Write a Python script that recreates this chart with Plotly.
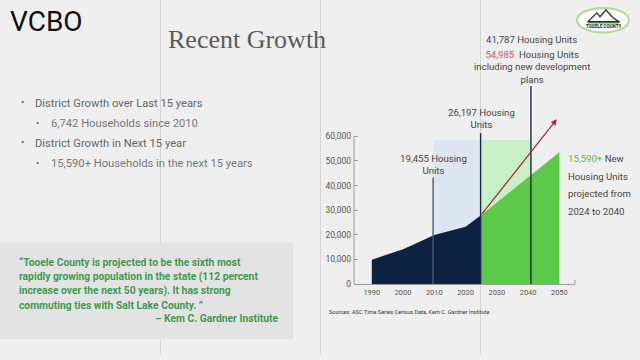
import plotly.graph_objects as go

W, H = 640, 360

# ---------------- data ----------------
hist_years = [1990, 2000, 2010, 2020, 2024.8]
hist_units = [9900, 14150, 19900, 23250, 27800]
proj_years = [2024.8, 2050]
proj_units = [27800, 53500]
trend_start = (2024.8, 27800)
trend_end = (2049.2, 67000)
shade_past = (2009.6, 2024.8)
shade_future = (2024.8, 2040.9)
shade_top = 58500
marker_years = [2009.6, 2024.8, 2040.9]
marker_tops = [43300, 61300, 80500]
y_ticks = [0, 10000, 20000, 30000, 40000, 50000, 60000]
x_ticks = [1990, 2000, 2010, 2020, 2030, 2040, 2050]

NAVY = "#0d2142"
GREEN = "#5cc94b"
LGREEN = "#c9efc7"
LBLUE = "#dde5f2"
RED = "#a8262b"
BG = "#efefef"
TXT = "#454545"
FONT = "Roboto"
CH = 9.6  # chart label size

def px(x):
    return x / W

def py(y):
    return 1 - y / H

fig = go.Figure()

fig.add_trace(go.Scatter(x=[shade_past[0], shade_past[1], shade_past[1], shade_past[0]],
                         y=[0, 0, shade_top, shade_top], fill="toself", mode="none",
                         fillcolor=LBLUE, hoverinfo="skip"))
fig.add_trace(go.Scatter(x=[shade_future[0], shade_future[1], shade_future[1], shade_future[0]],
                         y=[0, 0, shade_top, shade_top], fill="toself", mode="none",
                         fillcolor=LGREEN, hoverinfo="skip"))
fig.add_trace(go.Scatter(x=hist_years, y=hist_units, fill="tozeroy", mode="lines",
                         line=dict(width=0, color=NAVY), fillcolor=NAVY, hoverinfo="skip"))
fig.add_trace(go.Scatter(x=proj_years, y=proj_units, fill="tozeroy", mode="lines",
                         line=dict(width=0, color=GREEN), fillcolor=GREEN, hoverinfo="skip"))
mcolors = ["#4c5b7a", "#1e2a44", "#1e2a44"]
for xv, top, c in zip(marker_years, marker_tops, mcolors):
    fig.add_trace(go.Scatter(x=[xv, xv], y=[0, top], mode="lines",
                             line=dict(width=1.4, color=c), hoverinfo="skip"))

ann = []
ann.append(dict(x=trend_end[0], y=trend_end[1], ax=trend_start[0], ay=trend_start[1],
                xref="x", yref="y", axref="x", ayref="y", text="", showarrow=True,
                arrowhead=2, arrowsize=1, arrowwidth=1.2, arrowcolor=RED))

def T(text, x, y, size=CH, color=TXT, anchor="left", family=FONT, weight=None, yanchor="middle"):
    f = dict(size=size, color=color, family=family)
    if weight:
        f["weight"] = weight
    ann.append(dict(text=text, x=px(x), y=py(y), xref="paper", yref="paper",
                    xanchor=anchor, yanchor=yanchor, showarrow=False, font=f, align=anchor))

T("VCBO", 8, 22, size=28, color="#111111", weight=400)
T("Recent Growth", 166, 40, size=26, color="#5a5a5a", family="Liberation Serif")

T("•", 19, 104, size=10, color="#666")
T("District Growth over Last 15 years", 33, 105, size=11.2, color="#666")
T("•", 34, 125, size=10, color="#777")
T("6,742 Households since 2010", 48.5, 125, size=11.2, color="#777")
T("•", 19, 145, size=10, color="#666")
T("District Growth in Next 15 year", 33, 146, size=11.2, color="#666")
T("•", 34, 166, size=10, color="#777")
T("15,590+ Households in the next 15 years", 48.5, 166, size=11.2, color="#777")

QG = "#3f9a50"
qlines = ["“Tooele County is projected to be the sixth most",
          "rapidly growing population in the state (112 percent",
          "increase over the next 50 years). It has strong",
          "commuting ties with Salt Lake County. ”"]
qy = [265.7, 280.7, 295.0, 309.3]
for s, yy in zip(qlines, qy):
    T(s, 17, yy, size=10.3, color=QG, weight="bold")
T("– Kem C. Gardner Institute", 280, 323.3, size=10.3, color=QG, anchor="right", weight="bold")

T("19,455 Housing<br>Units", 433, 166.5, anchor="center")
T("26,197 Housing<br>Units", 481, 120.5, anchor="center")
T("41,787 Housing Units", 531.7, 40, anchor="center")
T("<span style='color:#d9534f'>54,985</span>  Housing Units<br>including new development<br>plans",
  531.7, 68, anchor="center")
T("<span style='color:#56c14a'>15,590+</span> New", 565.5, 160.5)
T("Housing Units", 565.5, 178.7)
T("projected from", 565.5, 196.7)
T("2024 to 2040", 565.5, 214.7)
T("Sources: ASC Time Series Census Data, Kem C. Gardner Institute", 326.5, 316.7, size=5.6, color="#333")

T("TOOELE COUNTY", 603, 26.5, size=4.5, color="#111", anchor="center", weight="bold")

shapes = []
for gx in [160.5, 320.5, 480.5]:
    shapes.append(dict(type="line", xref="paper", yref="paper", x0=px(gx), x1=px(gx), y0=0, y1=1,
                       line=dict(color="#d4d4d4", width=1), layer="below"))
shapes.append(dict(type="rect", xref="paper", yref="paper", x0=0, x1=px(293), y0=py(344), y1=py(246),
                   fillcolor="#e3e3e3", line=dict(width=0), layer="below"))
shapes.append(dict(type="line", xref="paper", yref="y", x0=px(354), x1=px(354), y0=0, y1=y_ticks[-1],
                   line=dict(color="#9a9a9a", width=1)))
shapes.append(dict(type="line", xref="paper", yref="paper", x0=px(575), x1=px(575), y0=py(288), y1=py(284),
                   line=dict(color="#9a9a9a", width=1)))
shapes.append(dict(type="circle", xref="paper", yref="paper", x0=px(577), x1=px(629), y0=py(33), y1=py(8),
                   fillcolor="#ffffff", line=dict(color="#a9dc95", width=2)))
mpath = "M {} {} L {} {} L {} {} L {} {} L {} {} L {} {} Z".format(
    px(588), py(22), px(597), py(13), px(600), py(17), px(606), py(10), px(613), py(18), px(619), py(22))
shapes.append(dict(type="path", xref="paper", yref="paper", path=mpath,
                   fillcolor="#ffffff", line=dict(color="#222", width=1.2)))
shapes.append(dict(type="line", xref="paper", yref="paper", x0=px(588), x1=px(619), y0=py(23), y1=py(23),
                   line=dict(color="#3a8a3a", width=1.5)))

fig.update_layout(
    width=W, height=H, margin=dict(l=0, r=0, t=0, b=0),
    paper_bgcolor=BG, plot_bgcolor="rgba(0,0,0,0)",
    showlegend=False, hovermode=False,
    annotations=ann, shapes=shapes,
    xaxis=dict(domain=[px(354), px(575)], range=[1984.3, 2055.0], showgrid=False, zeroline=False,
               showline=True, linecolor="#9a9a9a", linewidth=1, tickvals=x_ticks,
               ticks="", tickfont=dict(size=7.5, color="#555", family=FONT), ticklabelstandoff=1),
    yaxis=dict(domain=[py(288), 1], range=[0, 115430], showgrid=False, zeroline=False,
               showline=False, tickvals=y_ticks, ticktext=[f"{v:,}" for v in y_ticks],
               ticks="inside", ticklen=4, tickcolor="#9a9a9a",
               tickfont=dict(size=8.5, color="#555", family=FONT), ticklabelstandoff=2),
)

fig.write_html("out.html", config={"displayModeBar": False},
               post_script="document.body.style.margin='0';document.body.style.overflow='hidden';"
                           "document.documentElement.style.background='" + BG + "';")
